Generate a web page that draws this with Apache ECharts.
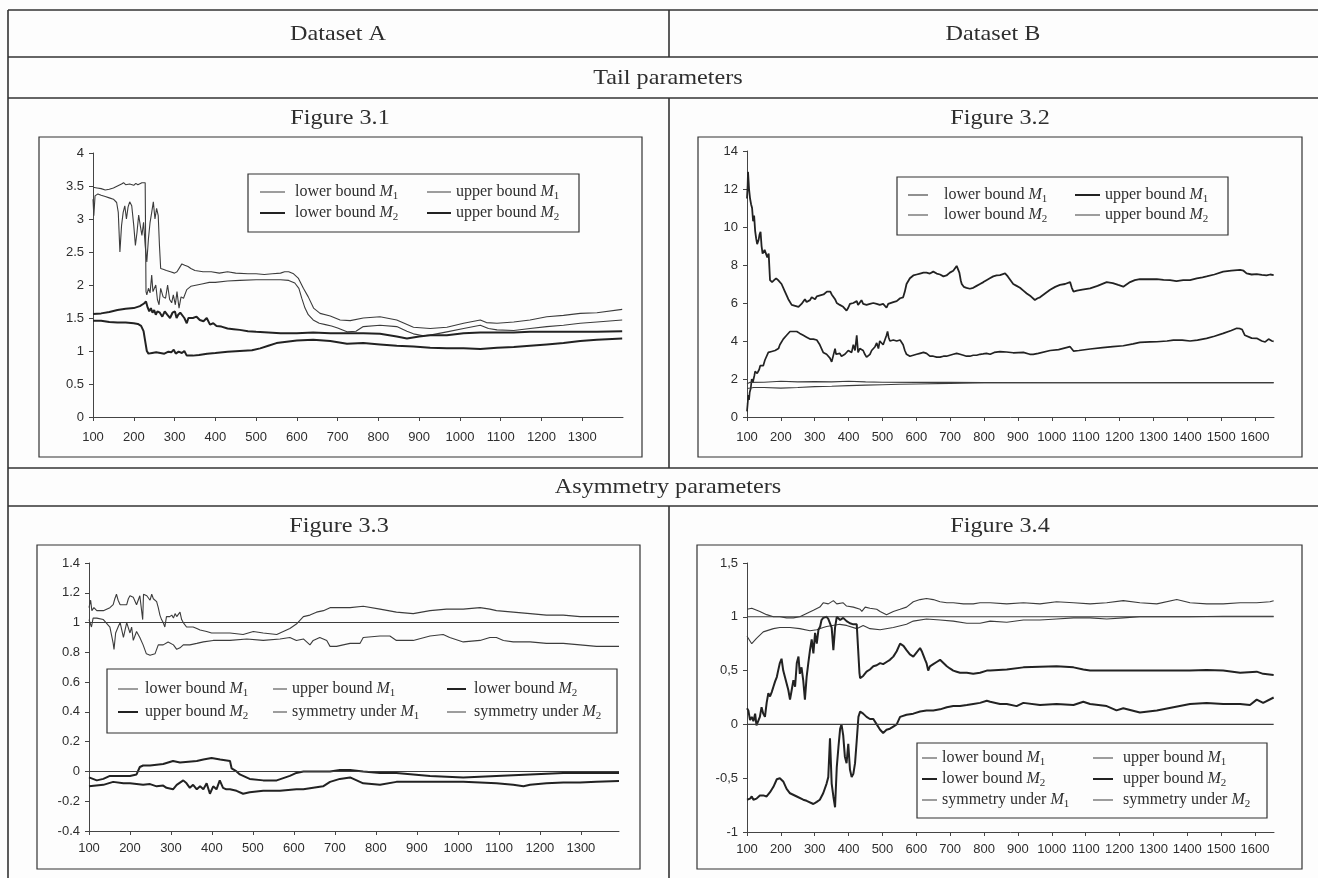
<!DOCTYPE html>
<html>
<head>
<meta charset="utf-8">
<title>Tail and asymmetry parameters</title>
<script src="https://cdn.jsdelivr.net/npm/echarts@6/dist/echarts.min.js"></script>
<style>
  html, body { margin: 0; padding: 0; background: #fdfdfd; }
  #chart { width: 1318px; height: 878px; }
</style>
</head>
<body>
<div id="chart"></div>
<script>
// ---- table headings ----
const datasetTitles = ['Dataset A', 'Dataset B'];
const sectionTitles = ['Tail parameters', 'Asymmetry parameters'];
const figureTitles = ['Figure 3.1', 'Figure 3.2', 'Figure 3.3', 'Figure 3.4'];

// ---- x-axis tick labels ----
const ticksA = [100, 200, 300, 400, 500, 600, 700, 800, 900, 1000, 1100, 1200, 1300];
const ticksB = [100, 200, 300, 400, 500, 600, 700, 800, 900, 1000, 1100, 1200, 1300, 1400, 1500, 1600];

// ---- Figure 3.1 : tail parameters, dataset A ----
const fig31LowerM1 = [[100,3.48],[104,3.5],[110,3.47],[120,3.46],[130,3.44],[140,3.45],[150,3.47],[160,3.5],[170,3.53],[175,3.55],[180,3.52],[190,3.53],[200,3.51],[205,3.54],[210,3.52],[220,3.55],[228,3.55],[230,1.9],[232,1.85],[236,1.95],[240,1.88],[244,2.15],[247,1.9],[250,1.88],[254,2.0],[258,1.78],[262,1.7],[266,1.95],[272,1.82],[278,1.8],[283,2.0],[288,1.78],[293,1.73],[297,1.85],[302,1.7],[306,1.9],[311,1.65],[316,1.82],[322,1.8],[330,1.93],[340,1.98],[355,2.0],[370,2.02],[385,2.04],[400,2.04],[430,2.06],[460,2.07],[500,2.08],[530,2.08],[560,2.08],[580,2.07],[595,2.03],[605,1.95],[612,1.8],[620,1.65],[628,1.55],[640,1.47],[655,1.42],[670,1.4],[685,1.38],[700,1.35],[723,1.29],[745,1.3],[763,1.37],[804,1.39],[845,1.37],[870,1.3],[886,1.26],[910,1.23],[927,1.24],[968,1.29],[1009,1.34],[1050,1.39],[1070,1.34],[1091,1.32],[1132,1.31],[1172,1.34],[1213,1.37],[1254,1.39],[1295,1.42],[1336,1.44],[1398,1.47]];
const fig31UpperM1 = [[100,3.3],[102,3.05],[105,3.35],[112,3.38],[120,3.36],[130,3.34],[140,3.32],[150,3.3],[158,3.25],[162,3.1],[166,2.5],[170,2.9],[174,3.1],[178,3.2],[182,3.0],[186,3.18],[190,3.26],[195,3.2],[200,2.9],[204,2.6],[208,2.8],[212,3.06],[216,2.9],[220,2.75],[224,2.95],[228,2.6],[232,2.35],[236,2.7],[240,2.95],[244,3.1],[248,3.26],[252,3.0],[256,3.16],[260,3.05],[263,2.6],[266,2.25],[272,2.24],[280,2.22],[290,2.2],[300,2.18],[306,2.2],[312,2.26],[318,2.32],[325,2.3],[333,2.28],[340,2.25],[350,2.22],[370,2.2],[390,2.2],[410,2.18],[430,2.2],[450,2.18],[480,2.17],[500,2.17],[520,2.16],[540,2.17],[560,2.18],[570,2.2],[580,2.2],[592,2.17],[604,2.1],[616,1.95],[628,1.82],[641,1.65],[657,1.57],[682,1.53],[706,1.47],[731,1.46],[763,1.5],[804,1.52],[845,1.47],[886,1.36],[927,1.34],[968,1.36],[1009,1.42],[1050,1.47],[1065,1.43],[1091,1.42],[1132,1.44],[1172,1.47],[1213,1.52],[1254,1.54],[1295,1.57],[1336,1.58],[1398,1.63]];
const fig31LowerM2 = [[100,1.46],[120,1.46],[140,1.44],[160,1.43],[180,1.43],[200,1.42],[210,1.41],[218,1.38],[224,1.3],[228,1.15],[232,1.0],[236,0.96],[245,0.97],[255,0.98],[265,0.97],[275,0.96],[285,0.99],[292,0.98],[298,1.02],[303,0.96],[310,0.99],[318,0.97],[324,1.0],[330,0.93],[345,0.93],[360,0.94],[380,0.96],[400,0.97],[430,0.99],[460,1.0],[490,1.01],[510,1.04],[530,1.08],[550,1.12],[575,1.14],[600,1.16],[640,1.17],[682,1.15],[723,1.11],[763,1.12],[804,1.1],[845,1.08],[886,1.07],[927,1.05],[968,1.04],[1009,1.04],[1050,1.03],[1091,1.05],[1132,1.06],[1172,1.08],[1213,1.1],[1254,1.12],[1295,1.15],[1336,1.17],[1398,1.19]];
const fig31UpperM2 = [[100,1.56],[120,1.57],[140,1.59],[160,1.62],[180,1.64],[200,1.65],[215,1.68],[225,1.72],[230,1.75],[234,1.66],[238,1.6],[242,1.65],[246,1.58],[250,1.62],[254,1.55],[258,1.6],[264,1.58],[270,1.52],[276,1.6],[282,1.55],[289,1.5],[295,1.58],[301,1.6],[305,1.5],[309,1.55],[314,1.58],[318,1.6],[324,1.5],[330,1.42],[334,1.5],[338,1.48],[345,1.5],[354,1.52],[362,1.47],[371,1.45],[379,1.5],[387,1.4],[395,1.42],[403,1.38],[415,1.37],[430,1.34],[445,1.33],[460,1.32],[480,1.3],[500,1.29],[530,1.28],[560,1.27],[600,1.27],[640,1.28],[682,1.27],[723,1.27],[763,1.27],[804,1.26],[845,1.22],[870,1.19],[900,1.22],[927,1.24],[968,1.24],[1009,1.27],[1050,1.28],[1091,1.28],[1132,1.28],[1172,1.29],[1254,1.29],[1336,1.29],[1398,1.3]];

// ---- Figure 3.2 : tail parameters, dataset B ----
const fig32UpperM1 = [[100,11.5],[102,12.2],[103,12.9],[106,12.0],[109,11.5],[112,11.2],[115,11.0],[118,10.3],[121,10.6],[124,9.8],[127,9.4],[130,9.1],[134,9.3],[137,9.6],[140,9.75],[143,9.0],[146,8.6],[149,8.5],[152,8.8],[156,8.6],[160,8.4],[164,8.6],[168,7.2],[174,7.1],[180,7.2],[186,7.3],[192,7.2],[197,7.3],[202,7.0],[207,6.9],[212,6.6],[217,6.5],[222,6.2],[227,6.1],[232,5.9],[237,5.8],[242,5.85],[247,5.75],[252,5.8],[256,5.8],[261,5.95],[266,6.0],[271,6.2],[276,6.05],[281,6.1],[286,6.15],[291,6.3],[296,6.25],[301,6.2],[306,6.35],[311,6.4],[316,6.4],[321,6.5],[326,6.45],[331,6.55],[336,6.6],[341,6.55],[346,6.6],[350,6.45],[355,6.4],[360,6.2],[365,6.0],[370,5.95],[374,5.9],[379,5.85],[384,5.8],[389,5.7],[394,5.6],[399,5.75],[404,5.95],[409,6.0],[414,6.0],[419,5.9],[424,6.1],[428,5.9],[433,5.95],[438,6.15],[443,5.95],[448,6.0],[453,5.9],[463,5.95],[473,6.0],[483,5.95],[492,5.9],[502,5.95],[507,5.85],[512,5.75],[517,5.95],[522,6.0],[532,6.05],[542,6.1],[552,6.25],[561,6.3],[566,6.6],[571,7.0],[576,7.1],[581,7.3],[591,7.45],[601,7.5],[611,7.55],[621,7.6],[630,7.6],[640,7.55],[650,7.65],[660,7.55],[670,7.5],[680,7.4],[689,7.45],[699,7.6],[709,7.7],[714,7.8],[719,7.95],[723,7.85],[727,7.6],[731,7.2],[734,7.0],[740,6.85],[748,6.8],[758,6.75],[768,6.8],[778,6.9],[788,7.0],[798,7.1],[807,7.2],[817,7.3],[827,7.4],[837,7.45],[847,7.47],[862,7.56],[870,7.4],[886,7.0],[896,6.9],[906,6.8],[916,6.65],[926,6.5],[938,6.35],[950,6.16],[958,6.25],[965,6.3],[980,6.5],[995,6.7],[1010,6.85],[1024,6.95],[1039,7.0],[1054,7.1],[1059,6.8],[1064,6.6],[1074,6.65],[1090,6.7],[1113,6.77],[1135,6.9],[1162,7.1],[1180,7.05],[1196,6.95],[1211,6.86],[1231,7.1],[1245,7.2],[1260,7.26],[1285,7.25],[1310,7.26],[1330,7.22],[1349,7.2],[1368,7.15],[1388,7.2],[1408,7.2],[1428,7.3],[1445,7.35],[1457,7.4],[1480,7.5],[1506,7.65],[1530,7.7],[1556,7.74],[1566,7.7],[1575,7.56],[1590,7.5],[1605,7.52],[1620,7.48],[1634,7.45],[1645,7.5],[1655,7.47]];
const fig32LowerM1 = [[100,0.3],[102,0.7],[104,1.15],[106,0.9],[108,1.3],[111,1.5],[114,2.0],[117,1.8],[119,1.7],[122,2.2],[124,2.4],[127,2.35],[130,2.3],[133,2.2],[136,2.5],[139,2.7],[143,2.6],[148,2.7],[153,3.0],[158,2.9],[163,3.4],[168,3.5],[173,3.45],[178,3.4],[183,3.5],[188,3.55],[193,3.6],[197,3.8],[202,3.9],[207,4.1],[212,4.2],[217,4.3],[222,4.4],[227,4.5],[232,4.55],[237,4.5],[242,4.55],[247,4.5],[252,4.45],[256,4.4],[261,4.35],[266,4.3],[276,4.2],[286,4.1],[296,4.1],[306,4.05],[315,3.8],[320,3.6],[325,3.4],[330,3.5],[335,3.3],[340,3.2],[345,3.1],[350,2.9],[355,2.85],[360,3.6],[363,3.3],[368,3.4],[374,3.35],[379,3.2],[384,3.1],[389,3.3],[394,3.2],[399,3.5],[404,3.6],[409,3.4],[414,3.8],[419,3.5],[424,4.3],[428,3.4],[433,3.6],[438,3.7],[443,3.5],[448,3.3],[453,3.15],[458,3.2],[463,3.3],[468,3.5],[473,3.55],[478,3.7],[483,3.9],[488,3.6],[492,4.0],[497,3.9],[502,3.8],[507,3.9],[512,4.3],[515,4.5],[518,4.2],[522,4.0],[527,4.1],[532,4.05],[542,4.0],[552,4.05],[557,4.0],[561,3.8],[566,3.5],[571,3.3],[576,3.2],[581,3.2],[591,3.25],[601,3.3],[611,3.35],[621,3.4],[630,3.35],[640,3.2],[650,3.2],[660,3.15],[670,3.15],[680,3.2],[689,3.2],[699,3.25],[709,3.3],[719,3.35],[729,3.3],[739,3.25],[748,3.2],[758,3.2],[768,3.25],[778,3.25],[788,3.3],[797,3.32],[807,3.35],[818,3.3],[830,3.4],[847,3.44],[866,3.42],[886,3.38],[916,3.4],[935,3.3],[945,3.3],[960,3.35],[995,3.5],[1020,3.55],[1054,3.7],[1064,3.47],[1080,3.5],[1113,3.58],[1150,3.65],[1180,3.7],[1211,3.75],[1240,3.85],[1260,3.93],[1290,3.95],[1310,3.96],[1340,4.0],[1359,4.05],[1385,4.05],[1408,4.0],[1430,4.05],[1457,4.14],[1480,4.25],[1506,4.4],[1530,4.55],[1546,4.67],[1556,4.65],[1562,4.6],[1570,4.3],[1575,4.2],[1590,4.15],[1605,4.14],[1620,4.0],[1630,3.95],[1640,4.1],[1650,4.0],[1655,3.98]];
const fig32LowerM2 = [[100,1.5],[105,1.58],[120,1.55],[150,1.55],[200,1.52],[250,1.55],[300,1.6],[350,1.62],[400,1.65],[450,1.68],[500,1.7],[550,1.72],[600,1.74],[700,1.77],[800,1.8],[900,1.8],[1000,1.8],[1200,1.8],[1400,1.81],[1655,1.81]];
const fig32UpperM2 = [[100,1.75],[108,1.82],[150,1.83],[200,1.88],[250,1.85],[300,1.86],[350,1.85],[400,1.88],[450,1.85],[500,1.83],[600,1.82],[700,1.82],[800,1.81],[1000,1.8],[1200,1.8],[1400,1.8],[1655,1.8]];

// ---- Figure 3.3 : asymmetry parameters, dataset A ----
const fig33UpperM1 = [[100,1.1],[104,1.15],[107,1.08],[112,1.1],[119,1.08],[135,1.08],[151,1.1],[159,1.12],[163,1.16],[167,1.19],[171,1.15],[176,1.12],[184,1.12],[192,1.12],[196,1.16],[200,1.18],[204,1.17],[208,1.17],[216,1.12],[224,1.18],[228,1.19],[231,1.02],[233,1.19],[237,1.2],[241,1.18],[245,1.18],[249,1.15],[253,1.19],[257,1.16],[261,1.15],[265,1.14],[269,1.1],[273,1.05],[277,1.02],[281,1.0],[285,0.97],[289,1.04],[293,1.05],[297,1.04],[302,1.05],[306,1.03],[310,1.06],[314,1.04],[318,1.04],[322,1.07],[326,1.02],[330,1.0],[338,0.97],[346,0.97],[354,0.97],[363,0.96],[371,0.95],[387,0.94],[399,0.93],[411,0.93],[444,0.93],[476,0.92],[501,0.94],[525,0.93],[558,0.92],[574,0.94],[590,0.96],[606,0.99],[623,1.04],[639,1.05],[655,1.07],[672,1.08],[688,1.1],[712,1.1],[737,1.1],[769,1.11],[810,1.09],[850,1.07],[891,1.06],[932,1.08],[972,1.09],[1013,1.09],[1054,1.1],[1078,1.09],[1094,1.08],[1135,1.07],[1176,1.06],[1216,1.05],[1257,1.05],[1298,1.04],[1338,1.04],[1393,1.04]];
const fig33LowerM1 = [[100,1.02],[106,0.97],[110,1.03],[119,1.03],[135,1.02],[151,0.97],[159,0.86],[161,0.82],[165,0.93],[171,0.97],[176,1.0],[184,0.9],[192,1.0],[196,1.01],[200,0.93],[204,0.97],[208,0.88],[216,0.94],[224,0.9],[232,0.85],[240,0.79],[249,0.78],[261,0.79],[265,0.8],[269,0.85],[281,0.85],[293,0.87],[306,0.85],[314,0.82],[322,0.83],[330,0.85],[346,0.85],[363,0.86],[379,0.87],[403,0.88],[444,0.88],[485,0.89],[525,0.88],[566,0.89],[590,0.9],[606,0.88],[623,0.89],[639,0.85],[647,0.88],[663,0.9],[680,0.88],[688,0.84],[704,0.84],[720,0.85],[737,0.86],[761,0.86],[769,0.9],[810,0.91],[834,0.91],[850,0.88],[891,0.88],[932,0.91],[964,0.92],[980,0.9],[1013,0.87],[1054,0.88],[1078,0.9],[1094,0.9],[1111,0.88],[1135,0.87],[1176,0.87],[1216,0.86],[1257,0.86],[1298,0.85],[1338,0.84],[1393,0.84]];
const fig33LowerM2 = [[100,-0.04],[119,-0.06],[135,-0.05],[151,-0.03],[200,-0.03],[216,-0.02],[224,0.03],[232,0.04],[249,0.04],[281,0.05],[305,0.07],[322,0.06],[363,0.07],[379,0.08],[399,0.09],[420,0.08],[444,0.07],[448,0.02],[452,0.03],[460,0.0],[468,-0.02],[476,-0.03],[492,-0.05],[525,-0.06],[558,-0.06],[590,-0.03],[606,-0.01],[623,0.0],[647,0.0],[688,0.0],[712,0.01],[737,0.01],[769,0.0],[810,-0.01],[850,-0.01],[891,-0.02],[932,-0.03],[1013,-0.04],[1094,-0.03],[1176,-0.02],[1257,-0.01],[1338,-0.01],[1393,-0.01]];
const fig33UpperM2 = [[100,-0.1],[135,-0.09],[159,-0.07],[184,-0.08],[200,-0.08],[232,-0.09],[249,-0.085],[265,-0.1],[281,-0.095],[289,-0.11],[305,-0.12],[314,-0.09],[330,-0.06],[338,-0.08],[346,-0.11],[354,-0.09],[363,-0.12],[371,-0.1],[379,-0.12],[387,-0.08],[395,-0.15],[403,-0.1],[411,-0.12],[419,-0.06],[427,-0.11],[435,-0.12],[444,-0.12],[460,-0.13],[476,-0.15],[492,-0.14],[525,-0.13],[566,-0.13],[606,-0.12],[623,-0.12],[647,-0.11],[671,-0.1],[688,-0.07],[712,-0.05],[737,-0.04],[753,-0.06],[769,-0.08],[810,-0.09],[850,-0.07],[891,-0.07],[932,-0.07],[972,-0.07],[1013,-0.07],[1054,-0.075],[1094,-0.08],[1135,-0.09],[1160,-0.1],[1176,-0.09],[1216,-0.08],[1257,-0.075],[1298,-0.075],[1338,-0.07],[1393,-0.065]];
const fig33SymM1 = [[100,1],[1393,1]];
const fig33SymM2 = [[100,0],[1393,0]];

// ---- Figure 3.4 : asymmetry parameters, dataset B ----
const fig34UpperM1 = [[100,1.07],[114,1.08],[138,1.05],[158,1.02],[178,1.0],[197,1.0],[217,0.99],[237,0.99],[256,1.0],[276,1.03],[296,1.06],[315,1.09],[325,1.13],[340,1.12],[355,1.15],[365,1.12],[384,1.13],[394,1.1],[414,1.09],[434,1.07],[439,1.05],[449,1.09],[463,1.08],[483,1.07],[493,1.05],[512,1.02],[532,1.05],[552,1.07],[571,1.09],[591,1.14],[611,1.16],[630,1.17],[650,1.16],[670,1.14],[690,1.13],[709,1.13],[739,1.12],[768,1.12],[788,1.13],[818,1.13],[867,1.12],[916,1.13],[965,1.12],[1014,1.14],[1064,1.13],[1113,1.12],[1162,1.13],[1211,1.15],[1260,1.13],[1310,1.12],[1369,1.16],[1408,1.13],[1457,1.12],[1506,1.12],[1556,1.13],[1605,1.13],[1644,1.14],[1655,1.15]];
const fig34LowerM1 = [[100,0.82],[114,0.75],[128,0.8],[148,0.86],[178,0.89],[197,0.9],[227,0.9],[256,0.89],[286,0.87],[306,0.88],[325,0.9],[335,0.91],[374,0.93],[394,0.92],[424,0.89],[443,0.92],[463,0.89],[493,0.88],[532,0.9],[571,0.93],[591,0.96],[630,0.98],[670,0.97],[709,0.96],[749,0.94],[788,0.94],[818,0.96],[867,0.95],[916,0.97],[965,0.97],[1014,0.98],[1064,0.99],[1113,0.99],[1162,0.98],[1211,0.99],[1260,1.0],[1310,1.0],[1408,1.0],[1506,1.005],[1605,1.005],[1655,1.005]];
const fig34UpperM2 = [[100,0.15],[104,0.13],[109,0.04],[114,0.07],[119,0.03],[124,0.1],[128,-0.01],[133,-0.02],[138,0.07],[143,0.16],[148,0.1],[153,0.07],[158,0.2],[163,0.29],[168,0.26],[173,0.3],[178,0.35],[183,0.4],[188,0.44],[192,0.5],[197,0.57],[202,0.61],[207,0.5],[212,0.44],[217,0.38],[222,0.32],[227,0.23],[232,0.32],[237,0.41],[242,0.35],[247,0.57],[252,0.63],[256,0.47],[261,0.53],[266,0.41],[271,0.23],[276,0.44],[281,0.57],[286,0.69],[291,0.79],[296,0.66],[301,0.85],[306,0.75],[311,0.88],[316,0.91],[320,0.97],[325,0.99],[330,1.0],[335,1.0],[340,0.98],[345,0.99],[350,0.9],[355,0.69],[360,0.9],[365,1.0],[370,1.01],[375,0.97],[384,0.99],[394,0.96],[404,0.94],[414,0.93],[424,0.93],[429,0.92],[432,0.48],[434,0.43],[443,0.45],[453,0.49],[463,0.51],[473,0.54],[483,0.55],[493,0.57],[502,0.56],[512,0.58],[522,0.6],[532,0.63],[542,0.68],[552,0.75],[557,0.74],[562,0.73],[571,0.69],[581,0.65],[591,0.63],[601,0.67],[611,0.71],[616,0.68],[621,0.67],[626,0.6],[630,0.57],[635,0.5],[640,0.54],[650,0.56],[660,0.58],[670,0.6],[680,0.57],[690,0.54],[699,0.52],[709,0.5],[719,0.49],[729,0.48],[749,0.48],[768,0.47],[788,0.48],[808,0.5],[818,0.5],[867,0.51],[916,0.53],[965,0.535],[1014,0.54],[1064,0.53],[1093,0.51],[1113,0.5],[1162,0.5],[1211,0.5],[1260,0.5],[1310,0.5],[1359,0.5],[1408,0.5],[1457,0.505],[1506,0.5],[1556,0.48],[1605,0.49],[1624,0.47],[1655,0.46]];
const fig34LowerM2 = [[100,-0.7],[109,-0.69],[114,-0.67],[119,-0.7],[128,-0.69],[138,-0.66],[148,-0.66],[158,-0.67],[168,-0.63],[178,-0.58],[188,-0.51],[197,-0.5],[207,-0.53],[217,-0.6],[227,-0.64],[247,-0.67],[266,-0.7],[276,-0.71],[296,-0.74],[306,-0.72],[315,-0.7],[325,-0.64],[335,-0.55],[340,-0.49],[345,-0.13],[350,-0.55],[355,-0.67],[360,-0.77],[365,-0.4],[370,-0.21],[375,-0.04],[379,0.0],[384,-0.1],[389,-0.3],[394,-0.36],[399,-0.18],[404,-0.42],[409,-0.49],[414,-0.46],[419,-0.36],[424,-0.15],[429,0.07],[434,0.12],[443,0.1],[453,0.07],[463,0.05],[473,0.05],[483,0.0],[493,-0.05],[502,-0.08],[512,-0.05],[522,-0.04],[532,-0.02],[542,0.0],[552,0.07],[571,0.09],[591,0.1],[611,0.12],[630,0.13],[650,0.13],[670,0.14],[690,0.16],[709,0.17],[729,0.17],[749,0.18],[768,0.19],[788,0.2],[808,0.22],[818,0.21],[847,0.19],[867,0.19],[896,0.17],[916,0.2],[965,0.18],[1014,0.19],[1064,0.18],[1093,0.21],[1113,0.19],[1162,0.17],[1191,0.13],[1211,0.15],[1260,0.11],[1310,0.13],[1359,0.16],[1408,0.19],[1457,0.2],[1506,0.19],[1556,0.19],[1585,0.18],[1605,0.23],[1624,0.2],[1655,0.25]];
const fig34SymM1 = [[100,1],[1655,1]];
const fig34SymM2 = [[100,0],[1655,0]];

// ---- styling ----
const SERIF = '"Liberation Serif", "Times New Roman", serif';
const SANS = '"Liberation Sans", Arial, sans-serif';
const INK = '#2e2e2e';
const RULE = '#333';
const THIN_COLOR = '#3c3c3c';
const THICK_COLOR = '#222';

// legend captions: [text before M, subscript]
const captions = {
  lowerM1: ['lower bound ', '1'], upperM1: ['upper bound ', '1'],
  lowerM2: ['lower bound ', '2'], upperM2: ['upper bound ', '2'],
  symM1: ['symmetry under ', '1'], symM2: ['symmetry under ', '2']
};

// one entry per figure panel
const figures = [
  {
    id: 'f31', grid: { left: 93, top: 153, width: 530, height: 264 }, labelMargin: 14,
    xMax: 1400, xTicks: ticksA, y: { min: 0, max: 4, interval: 0.5 },
    series: [
      { key: 'lowerM1', data: fig31LowerM1, width: 1.1 },
      { key: 'upperM1', data: fig31UpperM1, width: 1.1 },
      { key: 'lowerM2', data: fig31LowerM2, width: 2 },
      { key: 'upperM2', data: fig31UpperM2, width: 2 }
    ],
    box: [39, 137, 603, 320],
    legendBox: [248, 174, 331, 58],
    legend: [
      { left: 260, top: 184, itemWidth: 25, pad: 5, gap: 3, keys: ['lowerM1', 'lowerM2'] },
      { left: 427, top: 184, itemWidth: 24, pad: 0, gap: 3, keys: ['upperM1', 'upperM2'] }
    ]
  },
  {
    id: 'f32', grid: { left: 747, top: 151, width: 527, height: 266 }, labelMargin: 14,
    xMax: 1656, xTicks: ticksB, y: { min: 0, max: 14, interval: 2 },
    series: [
      { key: 'lowerM1', data: fig32LowerM1, width: 1.7, legendWidth: 1 },
      { key: 'upperM1', data: fig32UpperM1, width: 1.8, legendWidth: 2 },
      { key: 'lowerM2', data: fig32LowerM2, width: 1.1 },
      { key: 'upperM2', data: fig32UpperM2, width: 1.1 }
    ],
    box: [698, 137, 604, 320],
    legendBox: [897, 177, 331, 58],
    legend: [
      { left: 908, top: 187, itemWidth: 20, pad: 11, gap: 2, keys: ['lowerM1', 'lowerM2'] },
      { left: 1075, top: 187, itemWidth: 25, pad: 0, gap: 2, keys: ['upperM1', 'upperM2'] }
    ]
  },
  {
    id: 'f33', grid: { left: 89, top: 563, width: 530, height: 268 }, labelMargin: 11,
    xMax: 1393, xTicks: ticksA, y: { min: -0.4, max: 1.4, interval: 0.2 },
    series: [
      { key: 'lowerM1', data: fig33LowerM1, width: 1.1 },
      { key: 'upperM1', data: fig33UpperM1, width: 1.1 },
      { key: 'lowerM2', data: fig33LowerM2, width: 2 },
      { key: 'upperM2', data: fig33UpperM2, width: 2 },
      { key: 'symM1', data: fig33SymM1, width: 1.1 },
      { key: 'symM2', data: fig33SymM2, width: 1.1 }
    ],
    box: [37, 545, 603, 324],
    legendBox: [107, 669, 510, 64],
    legend: [
      { left: 118, top: 681, itemWidth: 20, pad: 2, gap: 5, keys: ['lowerM1', 'upperM2'] },
      { left: 273, top: 681, itemWidth: 14, pad: 0, gap: 5, keys: ['upperM1', 'symM1'] },
      { left: 447, top: 681, itemWidth: 19, pad: 3, gap: 5, keys: ['lowerM2', 'symM2'] }
    ]
  },
  {
    id: 'f34', grid: { left: 747, top: 563, width: 527, height: 269 }, labelMargin: 11,
    xMax: 1656, xTicks: ticksB, y: { min: -1, max: 1.5, interval: 0.5 }, comma: true,
    series: [
      { key: 'lowerM1', data: fig34LowerM1, width: 1.1 },
      { key: 'upperM1', data: fig34UpperM1, width: 1.1 },
      { key: 'lowerM2', data: fig34LowerM2, width: 2 },
      { key: 'upperM2', data: fig34UpperM2, width: 2 },
      { key: 'symM1', data: fig34SymM1, width: 1.1 },
      { key: 'symM2', data: fig34SymM2, width: 1.1 }
    ],
    box: [697, 545, 605, 324],
    legendBox: [917, 743, 350, 75],
    legend: [
      { left: 922, top: 750, itemWidth: 15, pad: 0, gap: 3, keys: ['lowerM1', 'lowerM2', 'symM1'] },
      { left: 1093, top: 750, itemWidth: 20, pad: 5, gap: 3, keys: ['upperM1', 'upperM2', 'symM2'] }
    ]
  }
];

const grids = [], xAxes = [], yAxes = [], series = [], legends = [], graphics = [];
const captionOf = {};

const axisLabelBase = { color: INK, fontFamily: SANS, fontSize: 13, hideOverlap: false };
const axisLineBase = { show: true, onZero: false, lineStyle: { color: '#444', width: 1 } };
const axisTickBase = { show: true, inside: false, length: 4, lineStyle: { color: '#444', width: 1 } };

figures.forEach((fig, i) => {
  grids.push(Object.assign({ containLabel: false }, fig.grid));
  xAxes.push({
    type: 'value', gridIndex: i, min: 100, max: fig.xMax,
    axisLine: axisLineBase, splitLine: { show: false },
    axisTick: Object.assign({ customValues: fig.xTicks }, axisTickBase),
    axisLabel: Object.assign({
      customValues: fig.xTicks, margin: fig.labelMargin,
      formatter: (v) => String(v)
    }, axisLabelBase)
  });
  yAxes.push({
    type: 'value', gridIndex: i, min: fig.y.min, max: fig.y.max, interval: fig.y.interval,
    axisLine: axisLineBase, splitLine: { show: false }, axisTick: axisTickBase,
    axisLabel: Object.assign({
      margin: 9,
      formatter: fig.comma ? (v) => String(+v.toFixed(2)).replace('.', ',') : (v) => String(+v.toFixed(2))
    }, axisLabelBase)
  });
  const widthOf = {};
  fig.series.forEach((s) => {
    const name = fig.id + '-' + s.key;
    captionOf[name] = captions[s.key];
    widthOf[s.key] = s.legendWidth || s.width;
    const color = s.width >= 1.5 ? THICK_COLOR : THIN_COLOR;
    series.push({
      type: 'line', name: name, xAxisIndex: i, yAxisIndex: i,
      data: s.data, symbol: 'none', showSymbol: false, silent: true,
      color: color, itemStyle: { color: color },
      lineStyle: { width: s.width, color: color }
    });
  });
  fig.legend.forEach((col) => {
    legends.push({
      orient: 'vertical', left: col.left, top: col.top, padding: 0,
      itemWidth: col.itemWidth, itemHeight: 14, itemGap: col.gap,
      selectedMode: false, symbolKeepAspect: true,
      itemStyle: { borderWidth: 0 },
      data: col.keys.map((k) => {
        const w = widthOf[k] >= 1.5 ? 2 : 1;
        return { name: fig.id + '-' + k, icon: 'path://M0,0H' + col.itemWidth + 'V' + w + 'H0Z' };
      }),
      formatter: (name) => {
        const c = captionOf[name];
        return '{t|' + c[0] + '}{m|M}{s|' + c[1] + '}';
      },
      textStyle: {
        color: INK, fontFamily: SERIF, fontSize: 16,
        rich: {
          t: { color: INK, fontFamily: SERIF, fontSize: 16, lineHeight: 20, padding: [0, 0, 0, col.pad] },
          m: { color: INK, fontFamily: SERIF, fontSize: 16, fontStyle: 'italic', lineHeight: 20 },
          s: { color: INK, fontFamily: SERIF, fontSize: 11, lineHeight: 11, verticalAlign: 'bottom' }
        }
      }
    });
  });
  // chart frame and legend frame
  graphics.push({
    type: 'rect', silent: true, z: 1,
    shape: { x: fig.box[0], y: fig.box[1], width: fig.box[2], height: fig.box[3] },
    style: { fill: 'none', stroke: RULE, lineWidth: 1.2 }
  });
  graphics.push({
    type: 'rect', silent: true, z: 1,
    shape: { x: fig.legendBox[0], y: fig.legendBox[1], width: fig.legendBox[2], height: fig.legendBox[3] },
    style: { fill: 'none', stroke: RULE, lineWidth: 1.2 }
  });
});

// table rules
const rule = (x1, y1, x2, y2) => ({
  type: 'line', silent: true, z: 1,
  shape: { x1: x1, y1: y1, x2: x2, y2: y2 },
  style: { stroke: RULE, lineWidth: 1.6 }
});
graphics.push(
  rule(8, 10, 1318, 10), rule(8, 57, 1318, 57), rule(8, 98, 1318, 98),
  rule(8, 468, 1318, 468), rule(8, 506, 1318, 506),
  rule(8, 10, 8, 878),
  rule(669, 10, 669, 57), rule(669, 98, 669, 468), rule(669, 506, 669, 878)
);

// table headings
const heading = (txt, cx, cy) => ({
  type: 'text', silent: true, z: 2, x: cx, y: cy, scaleX: 1.1,
  style: {
    text: txt, x: 0, y: 0, fill: INK, font: '22px ' + SERIF,
    align: 'center', verticalAlign: 'middle', textAlign: 'center', textVerticalAlign: 'middle'
  }
});
graphics.push(
  heading(datasetTitles[0], 338, 34), heading(datasetTitles[1], 993, 34),
  heading(sectionTitles[0], 668, 78), heading(sectionTitles[1], 668, 487),
  heading(figureTitles[0], 340, 118), heading(figureTitles[1], 1000, 118),
  heading(figureTitles[2], 339, 526), heading(figureTitles[3], 1000, 526)
);

const chart = echarts.init(document.getElementById('chart'), null, { renderer: 'canvas' });
chart.setOption({
  backgroundColor: '#fdfdfd',
  animation: false,
  textStyle: { fontFamily: SANS, color: INK },
  grid: grids, xAxis: xAxes, yAxis: yAxes,
  legend: legends, series: series, graphic: graphics
});
</script>
</body>
</html>
